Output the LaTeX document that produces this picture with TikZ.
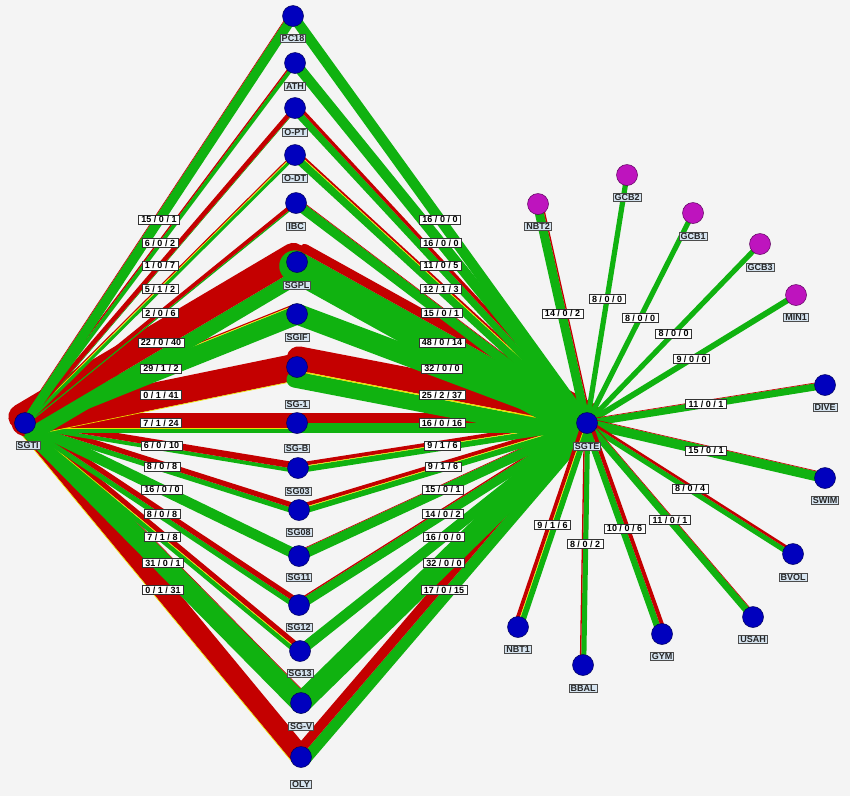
\documentclass[tikz,border=0pt]{standalone}
\usepackage{fontspec}
\setmainfont{Liberation Sans}
\usetikzlibrary{calc}
\definecolor{gr}{RGB}{16,178,16}
\definecolor{rd}{RGB}{196,0,0}
\definecolor{yl}{RGB}{235,225,0}
\definecolor{bl}{RGB}{0,0,190}
\definecolor{bld}{RGB}{0,0,90}
\definecolor{pu}{RGB}{190,20,190}
\definecolor{pud}{RGB}{90,0,90}
\definecolor{bgc}{RGB}{244,244,244}
\definecolor{lb}{RGB}{214,228,240}
\pgfdeclarelayer{bgl}
\pgfdeclarelayer{bands}
\pgfsetlayers{bgl,bands,main}
\newcommand{\kk}{0.65}
% \edg{from}{to}{green}{yellow}{red}: red stripe on the left of from->to
\newcommand{\edg}[5]{%
 \pgfmathsetmacro\bW{\kk*(#3+#4+#5)}%
 \pgfmathsetmacro\wG{\kk*#3}%
 \pgfmathsetmacro\wY{\kk*#4}%
 \pgfmathsetmacro\wR{\kk*#5}%
 \pgfmathsetmacro\oR{\bW/2-\wR/2}%
 \pgfmathsetmacro\oY{\bW/2-\wR-\wY/2}%
 \pgfmathsetmacro\oG{\bW/2-\wR-\wY-\wG/2}%
 \begin{pgfonlayer}{bands}
 \ifnum#3>0 \draw[stripe,gr,line width=\wG pt] ($(#1)!\oG pt!90:(#2)$) -- ($(#2)!\oG pt!-90:(#1)$);\fi
 \ifnum#5>0 \draw[stripe,rd,line width=\wR pt] ($(#1)!\oR pt!90:(#2)$) -- ($(#2)!\oR pt!-90:(#1)$);\fi
 \ifnum#4>0 \draw[stripe,yl,line width=\wY pt] ($(#1)!\oY pt!90:(#2)$) -- ($(#2)!\oY pt!-90:(#1)$);\fi
 \end{pgfonlayer}
 \path (#1.center) -- (#2.center) node[elbl,midway] {#3 / #4 / #5};%
}
\tikzset{
 stripe/.style={line cap=round},
 bn/.style={circle,fill=bl,draw=bld,line width=0.5pt,minimum size=21pt,inner sep=0pt},
 pn/.style={circle,fill=pu,draw=pud,line width=0.5pt,minimum size=21pt,inner sep=0pt},
 nlbl/.style={fill=lb,draw=black!70,line width=0.6pt,inner xsep=1.5pt,inner ysep=1pt,font=\fontsize{9}{10}\selectfont\bfseries,text=black!85},
 elbl/.style={fill=white,draw=black!80,line width=0.6pt,inner xsep=3pt,inner ysep=1pt,font=\fontsize{9}{10}\selectfont\bfseries,text=black}
}
\begin{document}
\begin{tikzpicture}[x=1pt,y=-1pt]
\begin{pgfonlayer}{bgl}
\fill[bgc] (0,0) rectangle (850,796);
\end{pgfonlayer}
\useasboundingbox (0,0) rectangle (850,796);
% main nodes
\node[bn] (SGTI) at (25,423) {};
\node[bn] (SGTE) at (587,423) {};
\node[bn] (PC18) at (293,16) {};
\node[bn] (ATH) at (295,63) {};
\node[bn] (OPT) at (295,108) {};
\node[bn] (ODT) at (295,155) {};
\node[bn] (IBC) at (296,203) {};
\node[bn] (SGPL) at (297,262) {};
\node[bn] (SGIF) at (297,314) {};
\node[bn] (SG1) at (297,367) {};
\node[bn] (SGB) at (297,423) {};
\node[bn] (SG03) at (298,468) {};
\node[bn] (SG08) at (299,510) {};
\node[bn] (SG11) at (299,556) {};
\node[bn] (SG12) at (299,605) {};
\node[bn] (SG13) at (300,651) {};
\node[bn] (SGV) at (301,703) {};
\node[bn] (OLY) at (301,757) {};
% satellites
\node[pn] (NBT2) at (538,204) {};
\node[pn] (GCB2) at (627,175) {};
\node[pn] (GCB1) at (693,213) {};
\node[pn] (GCB3) at (760,244) {};
\node[pn] (MIN1) at (796,295) {};
\node[bn] (DIVE) at (825,385) {};
\node[bn] (SWIM) at (825,478) {};
\node[bn] (BVOL) at (793,554) {};
\node[bn] (USAH) at (753,617) {};
\node[bn] (GYM) at (662,634) {};
\node[bn] (BBAL) at (583,665) {};
\node[bn] (NBT1) at (518,627) {};
% node labels
\node[nlbl] (tSGTI) at (28,445) {SGTI};
\node[nlbl] (tSGTE) at (587,446) {SGTE};
\node[nlbl] (tPC18) at (293,38) {PC18};
\node[nlbl] (tATH) at (295,86) {ATH};
\node[nlbl] (tOPT) at (295,132) {O-PT};
\node[nlbl] (tODT) at (295,178) {O-DT};
\node[nlbl] (tIBC) at (296,226) {IBC};
\node[nlbl] (tSGPL) at (297,285) {SGPL};
\node[nlbl] (tSGIF) at (297,337) {SGIF};
\node[nlbl] (tSG1) at (297,404) {SG-1};
\node[nlbl] (tSGB) at (297,448) {SG-B};
\node[nlbl] (tSG03) at (298,491) {SG03};
\node[nlbl] (tSG08) at (299,532) {SG08};
\node[nlbl] (tSG11) at (299,577) {SG11};
\node[nlbl] (tSG12) at (299,627) {SG12};
\node[nlbl] (tSG13) at (300,673) {SG13};
\node[nlbl] (tSGV) at (301,726) {SG-V};
\node[nlbl] (tOLY) at (301,784) {OLY};
\node[nlbl] (tNBT2) at (538,226) {NBT2};
\node[nlbl] (tGCB2) at (627,197) {GCB2};
\node[nlbl] (tGCB1) at (693,236) {GCB1};
\node[nlbl] (tGCB3) at (760,267) {GCB3};
\node[nlbl] (tMIN1) at (796,317) {MIN1};
\node[nlbl] (tDIVE) at (825,407) {DIVE};
\node[nlbl] (tSWIM) at (825,500) {SWIM};
\node[nlbl] (tBVOL) at (793,577) {BVOL};
\node[nlbl] (tUSAH) at (753,639) {USAH};
\node[nlbl] (tGYM) at (662,656) {GYM};
\node[nlbl] (tBBAL) at (583,688) {BBAL};
\node[nlbl] (tNBT1) at (518,649) {NBT1};
% left fan (bottom to top)
\edg{SGTI}{OLY}{0}{1}{31}
\edg{SGTI}{SGV}{31}{0}{1}
\edg{SGTI}{SG13}{7}{1}{8}
\edg{SGTI}{SG12}{8}{0}{8}
\edg{SGTI}{SG11}{16}{0}{0}
\edg{SGTI}{SG08}{8}{0}{8}
\edg{SGTI}{SG03}{6}{0}{10}
\edg{SGTI}{SGB}{7}{1}{24}
\edg{SGTI}{SG1}{0}{1}{41}
\edg{SGTI}{SGIF}{29}{1}{2}
\edg{SGTI}{SGPL}{22}{0}{40}
\edg{SGTI}{IBC}{2}{0}{6}
\edg{SGTI}{ODT}{5}{1}{2}
\edg{SGTI}{OPT}{1}{0}{7}
\edg{SGTI}{ATH}{6}{0}{2}
\edg{SGTI}{PC18}{15}{0}{1}
% right fan (bottom to top)
\edg{OLY}{SGTE}{17}{0}{15}
\edg{SGV}{SGTE}{32}{0}{0}
\edg{SG13}{SGTE}{16}{0}{0}
\edg{SG12}{SGTE}{14}{0}{2}
\edg{SG11}{SGTE}{15}{0}{1}
\edg{SG08}{SGTE}{9}{1}{6}
\edg{SG03}{SGTE}{9}{1}{6}
\edg{SGB}{SGTE}{16}{0}{16}
\edg{SG1}{SGTE}{25}{2}{37}
\edg{SGIF}{SGTE}{32}{0}{0}
\edg{SGPL}{SGTE}{48}{0}{14}
\edg{IBC}{SGTE}{15}{0}{1}
\edg{ODT}{SGTE}{12}{1}{3}
\edg{OPT}{SGTE}{11}{0}{5}
\edg{ATH}{SGTE}{16}{0}{0}
\edg{PC18}{SGTE}{16}{0}{0}
% satellites
\edg{NBT2}{SGTE}{14}{0}{2}
\edg{SGTE}{GCB2}{8}{0}{0}
\edg{SGTE}{GCB1}{8}{0}{0}
\edg{SGTE}{GCB3}{8}{0}{0}
\edg{SGTE}{MIN1}{9}{0}{0}
\edg{SGTE}{DIVE}{11}{0}{1}
\edg{SGTE}{SWIM}{15}{0}{1}
\edg{SGTE}{BVOL}{8}{0}{4}
\edg{SGTE}{USAH}{11}{0}{1}
\edg{SGTE}{GYM}{10}{0}{6}
\edg{BBAL}{SGTE}{8}{0}{2}
\edg{NBT1}{SGTE}{9}{1}{6}
\end{tikzpicture}
\end{document}
